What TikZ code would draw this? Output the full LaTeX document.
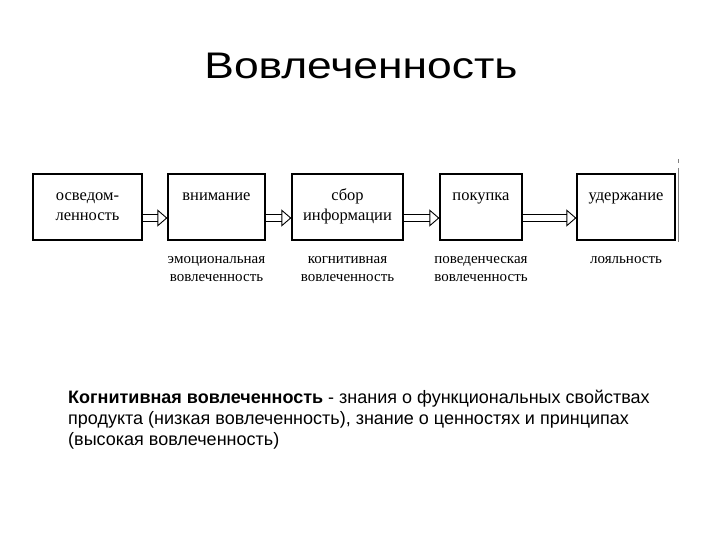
\documentclass[tikz,border=0pt]{standalone}
\usepackage{fontspec}
\setmainfont{Liberation Serif}
\newfontfamily\arialfont{Liberation Sans}
\usetikzlibrary{arrows.meta, positioning}

\begin{document}
\begin{tikzpicture}[x=1pt, y=-1pt, >=Stealth,
  stage/.style={draw, line width=1.2pt, minimum height=66pt, inner sep=0pt},
  intext/.style={font=\fontsize{16.5}{20}\selectfont, align=center, anchor=base, inner sep=0pt},
  subtext/.style={font=\fontsize{15}{18}\selectfont, align=center, anchor=base, inner sep=0pt},
  flow/.style={double, double distance=6pt, line width=0.9pt, -{Triangle[open, length=10pt, width=17pt]}}]
  \useasboundingbox (0,0) rectangle (720,540);
  \node[font=\arialfont\fontsize{37}{40}\selectfont, anchor=base] (title) at (361,79)
    {\scalebox{1.2}[1]{Вовлеченность}};
  % stages of the chain (base = last line)
  \foreach \n/\x/\w in {osv/87.5/109, vnim/216.5/97, sbor/347.5/111, pok/481/82, ud/626/98}
    \node[stage, minimum width=\w pt] (\n) at (\x,207) {};
  \node[intext] (osvt) at ([yshift=-47pt]osv.north) {осведом-\\ленность};
  \node[intext] (vnimt) at ([yshift=-27pt]vnim.north) {внимание};
  \node[intext] (sbort) at ([yshift=-47pt]sbor.north) {сбор\\информации};
  \node[intext] (pokt) at ([yshift=-27pt]pok.north) {покупка};
  \node[intext] (udt) at ([yshift=-27pt]ud.north) {удержание};
  % arrows
  \foreach \a/\b in {osv/vnim, vnim/sbor, sbor/pok, pok/ud}
    \draw[flow] ([yshift=-11pt]\a.east) -- ([yshift=-11pt]\b.west);
  % kinds of involvement
  \node[subtext] (emo) at ([yshift=-41pt]vnim.south) {эмоциональная\\вовлеченность};
  \node[subtext] (kog) at ([yshift=-41pt]sbor.south) {когнитивная\\вовлеченность};
  \node[subtext] (pov) at ([yshift=-41pt]pok.south) {поведенческая\\вовлеченность};
  \node[subtext] (loy) at ([yshift=-23pt]ud.south) {лояльность};
  % edge of the cut
  \draw[gray, line width=1pt] (678,168) -- (678,242);
  \draw[gray, line width=1pt] (678,159) -- (678,163);
  \node[anchor=north west, font=\arialfont\fontsize{18}{21}\selectfont, align=left, inner sep=0pt,
    execute at begin node=\strut] (note) at (68,390)
    {\textbf{Когнитивная вовлеченность} - знания о функциональных свойствах\\
     продукта (низкая вовлеченность), знание о ценностях и принципах\\
     (высокая вовлеченность)};
\end{tikzpicture}
\end{document}
